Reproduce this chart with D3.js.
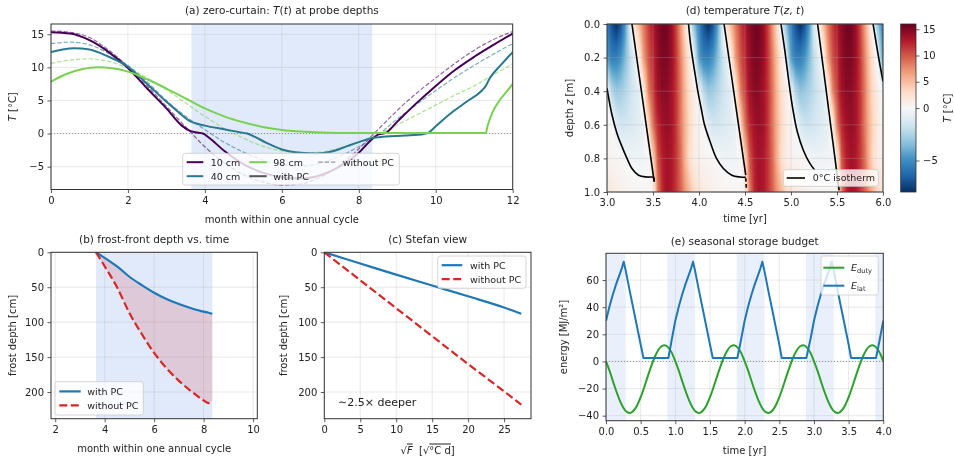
<!DOCTYPE html>
<html>
<head>
<meta charset="utf-8">
<script src="https://cdn.jsdelivr.net/npm/d3@7"></script>
<style>
  body { margin: 0; background: #fff; }
  #chart { position: relative; width: 954px; height: 458px; }
  #chart canvas, #chart svg { position: absolute; left: 0; top: 0; }
</style>
</head>
<body>
<div id="chart"></div>
<script>
// ---------- (a) probe temperatures [month, degC] ----------
const pc10 = [[0,15.3],[0.5,15.1],[1,14.1],[1.5,12.3],[2,9.9],[2.5,6.8],[3,3.8],[3.4,1.2],[3.6,0.45],[3.75,0.2],[3.95,0],[4.1,-0.6],[4.5,-2.6],[5,-4.6],[5.5,-5.9],[6,-6.6],[6.5,-6.8],[7,-6.3],[7.5,-5],[8,-2.9],[8.3,-1.1],[8.5,-0.15],[8.7,0.1],[9,1.8],[9.5,4.6],[10,7.2],[10.5,9.6],[11,11.6],[11.5,13.4],[12,15.1]];
const np10 = [[0,15.5],[0.5,15.3],[1,14.5],[1.5,12.6],[2,10.1],[2.5,7.2],[3,4.1],[3.5,1],[4,-2],[4.5,-4.4],[5,-6.2],[5.5,-7.3],[6,-7.8],[6.5,-7.6],[7,-6.6],[7.5,-4.8],[8,-2.3],[8.5,0.6],[9,3.5],[9.5,6.1],[10,8.4],[10.5,10.6],[11,12.6],[11.5,14.2],[12,15.4]];
const pc40 = [[0,12.3],[0.3,12.7],[0.6,12.9],[1,12.7],[1.5,11.6],[2,10.1],[2.5,7.5],[3,4.8],[3.3,3.3],[3.6,1.9],[4,1.2],[4.5,0.65],[4.9,0.2],[5.1,0],[5.3,-0.5],[5.6,-1.4],[6,-2.4],[6.5,-2.9],[6.9,-3],[7.3,-2.7],[7.7,-1.9],[8,-1.3],[8.3,-0.75],[8.7,-0.45],[9.2,-0.3],[9.7,-0.05],[9.8,0.1],[10,1.1],[10.4,3.1],[10.8,4.8],[11.2,6.5],[11.3,7.2],[11.4,8.3],[11.7,10.4],[12,12.3]];
const np40 = [[0,13.6],[0.5,13.8],[1,13.4],[1.5,12.1],[2,10.3],[2.5,7.8],[3,5],[3.5,2.6],[4,0.6],[4.5,-1.3],[5,-2.8],[5.5,-4],[6,-4.7],[6.5,-4.9],[7,-4.5],[7.5,-3.4],[8,-2],[8.5,-0.2],[9,2.2],[9.5,4.4],[10,6.5],[10.5,8.5],[11,10.3],[11.5,12],[12,13.6]];
const pc98 = [[0,7.85],[0.4,9],[0.8,9.7],[1.2,10],[1.6,9.85],[2,9.35],[2.5,8.2],[3,6.8],[3.5,5.3],[4,3.8],[4.5,2.6],[5,1.7],[5.5,1],[6,0.55],[6.5,0.3],[7,0.15],[7.5,0.1],[8,0.1],[9,0.1],[10,0.1],[11,0.1],[11.3,0.1],[11.35,1.2],[11.4,2.1],[11.5,3.5],[11.67,5.1],[11.85,6.4],[12,7.5]];
const np98 = [[0,10.6],[0.5,11.1],[1,11.3],[1.5,10.9],[2,9.9],[2.5,8.4],[3,6.6],[3.5,4.6],[4,2.6],[4.5,0.8],[5,-0.7],[5.5,-1.9],[6,-2.6],[6.5,-2.9],[7,-2.8],[7.5,-2.2],[8,-1.3],[8.5,-0.1],[9,1.3],[9.5,2.8],[10,4.3],[10.5,5.8],[11,7.2],[11.5,8.9],[12,10.5]];
const freezeSpan = [3.65, 8.35];

// ---------- (b) frost front ----------
const frostMonths = [3.65, 4.0, 4.5, 5.0, 5.5, 6.0, 6.5, 7.0, 7.5, 8.0, 8.2, 8.35];
const frostWithPC = [0, 8, 20, 35, 47, 58, 67, 74, 80, 85, 86.5, 88];
const frostWithoutPC = [0, 20, 50, 87, 117, 144, 166, 184, 199, 212, 216, 213];

// ---------- (c) Stefan view ----------
const stefanSqrtF = [0, 5, 10, 15, 20, 25, 27.4];
const stefanWithPC = [0, 16, 32, 47.5, 63, 79, 88];
const stefanWithoutPC = [0, 40, 80, 120, 160, 199, 218];

// ---------- (d) temperature field T(z,t), rows by depth, columns every 0.05 yr from 3.0 to 6.0 ----------
const heatDepths = [0, 0.2, 0.4, 0.6, 0.8, 1.0];
const heatZ00 = [
  -5.5,-7,-8,-7,-4.5,-1.2,2.5,5.5,8.5,11,13,14.5,15.5,15.5,14,11,7,2.8,-1,-3.5,
  -5.5,-7,-8,-7,-4.5,-1.2,2.5,5.5,8.5,11,13,14.5,15.5,15.5,14,11,7,2.8,-1,-3.5,
  -5.5,-7,-8,-7,-4.5,-1.2,0.5,5,8.5,11,13,14.5,15.5,15.5,14,11,7,2.8,-1,-3.5,
  -5.5];
const heatZ02 = [
  -4.5,-5.5,-5.5,-4.8,-3.5,-2,-0.9,1.5,7,10,12,14,15,15,14,11.5,8,4.5,1.5,-1,
  -4.5,-5.5,-5.5,-4.8,-3.5,-2,-0.9,1.5,7,10,12,14,15,15,14,11.5,8,4.5,1.5,-1,
  -4.5,-5.5,-5.5,-4.8,-3.5,-2,-0.9,0.3,6.5,10,12,14,15,15,14,11.5,8,4.5,1.5,-1,
  -4.5];
const heatZ04 = [
  -0.2,-2.2,-3,-2.8,-2.3,-1.8,-1.3,-0.9,1.5,8,11,13.5,14.5,14.5,13.5,11.5,8.5,5,2.5,1,
  -0.2,-2.2,-3,-2.8,-2.3,-1.8,-1.3,-0.9,1.5,8,11,13.5,14.5,14.5,13.5,11.5,8.5,5,2.5,1,
  -0.2,-2.4,-3.2,-3,-2.5,-2,-1.5,-1,0.2,7.5,11,13.5,14.5,14.5,13.5,11.5,8.5,5,2.5,1,
  -0.2];
const heatZ06 = [
  0.4,0.1,-1,-1.5,-1.5,-1.3,-1.1,-0.9,-0.6,3,9,12,13.5,14,13.5,11.5,8.5,5.5,3,1.2,
  0.4,0.1,-1,-1.5,-1.5,-1.3,-1.1,-0.9,-0.6,3,9,12,13.5,14,13.5,11.5,8.5,5.5,3,1.2,
  0.4,0,-1.2,-1.7,-1.7,-1.5,-1.2,-1,-0.7,0.5,8.5,12,13.5,14,13.5,11.5,8.5,5.5,3,1.2,
  0.4];
const heatZ08 = [
  0.6,0.45,0.3,0.15,-0.05,-0.3,-0.35,-0.35,-0.3,-0.2,3,10,12.5,13.5,13,11.5,9,5.5,2.5,1.2,
  0.6,0.45,0.3,0.15,-0.05,-0.3,-0.35,-0.35,-0.3,-0.2,3,10,12.5,13.5,13,11.5,9,5.5,2.5,1.2,
  0.6,0.45,0.3,0.1,-0.1,-0.35,-0.4,-0.4,-0.35,-0.25,0.2,10,12.5,13.5,13,11.5,9,5.5,2.5,1.2,
  0.6];
const heatZ10 = [
  2,1.5,1.1,0.8,0.6,0.45,0.35,0.25,0.2,0.15,0.1,8,12,13.5,13,11.5,9.5,7,5,3,
  2,1.5,1.1,0.8,0.6,0.45,0.35,0.25,0.2,0.15,0.1,8,12,13.5,13,11.5,9.5,7,5,3,
  2,1.5,1.1,0.8,0.6,0.45,0.35,0.25,0.2,0.15,0.1,8,12,13.5,13,11.5,9.5,7,5,3,
  2];
const heatRows = [heatZ00, heatZ02, heatZ04, heatZ06, heatZ08, heatZ10];
const heatTimes = d3.range(heatZ00.length).map(i => 3 + i * 0.05);

// 0 degC isotherm pieces [t yr, z m]
const isoLines = [
  [[3.0,0.382],[3.018,0.44],[3.054,0.54],[3.108,0.65],[3.163,0.73],[3.217,0.80],[3.271,0.86],[3.343,0.90],[3.434,0.911],[3.506,0.913],[3.513,0.935]],
  [[3.271,0],[3.513,0.94]],
  [[3.886,0],[3.904,0.1],[3.929,0.2],[3.958,0.3],[3.987,0.4],[4.023,0.5],[4.06,0.6],[4.12,0.7],[4.19,0.8],[4.265,0.86],[4.356,0.90],[4.446,0.911],[4.508,0.913]],
  [[4.272,0],[4.508,0.90]],
  [[4.509,0.918],[4.511,0.938]],
  [[4.512,0.952],[4.514,0.975]],
  [[4.891,0],[4.934,0.163],[4.981,0.362],[5.024,0.52],[5.068,0.64],[5.133,0.75],[5.205,0.83],[5.259,0.87]],
  [[5.289,0],[5.523,0.99]],
  [[5.892,0],[5.946,0.18],[6.0,0.342]]
];

// ---------- (e) storage budget ----------
const dutyTimes = d3.range(81).map(i => i * 0.05);
const dutyEnergy = [
  0,-6.8,-14.6,-22.2,-28.9,-34.1,-37.2,-38,-36.2,-32.3,-26.4,-19.2,-11.4,-3.8,2.9,8.1,11.2,12,10.2,6.3,
  0,-6.8,-14.6,-22.2,-28.9,-34.1,-37.2,-38,-36.2,-32.3,-26.4,-19.2,-11.4,-3.8,2.9,8.1,11.2,12,10.2,6.3,
  0,-6.8,-14.6,-22.2,-28.9,-34.1,-37.2,-38,-36.2,-32.3,-26.4,-19.2,-11.4,-3.8,2.9,8.1,11.2,12,10.2,6.3,
  0,-6.8,-14.6,-22.2,-28.9,-34.1,-37.2,-38,-36.2,-32.3,-26.4,-19.2,-11.4,-3.8,2.9,8.1,11.2,12,10.2,6.3,
  0];
const latent = [
  [0,30],[0.05,40.5],[0.1,49.5],[0.15,57.5],[0.2,64.5],[0.23,69],[0.255,73.5],[0.28,68],[0.35,50],[0.4,37.5],[0.45,25],[0.5,12.5],[0.54,2.5],[0.9,2.5],[0.95,16.5],
  [1,30],[1.05,40.5],[1.1,49.5],[1.15,57.5],[1.2,64.5],[1.23,69],[1.255,73.5],[1.28,68],[1.35,50],[1.4,37.5],[1.45,25],[1.5,12.5],[1.54,2.5],[1.895,2.5],[1.95,16.5],
  [2,30],[2.05,40.5],[2.1,49.5],[2.15,57.5],[2.2,64.5],[2.23,69],[2.255,73.5],[2.28,68],[2.35,50],[2.4,37.5],[2.45,25],[2.5,12.5],[2.535,2.5],[2.89,2.5],[2.95,16.5],
  [3,30],[3.05,40.5],[3.1,49.5],[3.15,57.5],[3.2,64.5],[3.23,69],[3.255,73.5],[3.28,68],[3.35,50],[3.4,37.5],[3.45,25],[3.5,12.5],[3.535,2.5],[3.895,2.5],[3.95,16.5],
  [4,30]];
const budgetSpans = [[-0.115,0.285],[0.885,1.285],[1.885,2.285],[2.885,3.285],[3.885,4.285]];

// ---------- layout ----------
const W = 954, H = 458;
const FONT = "DejaVu Sans, sans-serif";
const A = {l: 51, r: 512.7, t: 24, b: 189.5};
const D = {l: 607, r: 883, t: 24, b: 192};
const CB = {l: 900.7, r: 916, t: 24, b: 192};
const B = {l: 51, r: 257.3, t: 252.3, b: 418.7};
const C = {l: 324.3, r: 531, t: 252.3, b: 418.7};
const E = {l: 606, r: 883.3, t: 253.3, b: 420.7};

const c10 = "#440154", c40 = "#2a788e", c98 = "#7ad151";
const blue = "#1f77b4", red = "#d62728", green = "#2ca02c";

// colour map: RdBu_r with two-slope norm (-8, 0, 16)
const rdbuR = d3.scaleLinear().domain(d3.range(11).map(i => i / 10)).range(d3.schemeRdBu[11].slice().reverse());
const tempNorm = d3.scaleLinear().domain([-8, 0, 16]).range([0, 0.5, 1]).clamp(true);
const tempColor = v => rdbuR(tempNorm(v));

const chart = d3.select("#chart");
const canvas = chart.append("canvas");
const svg = chart.append("svg").attr("width", W).attr("height", H);

function label(g, x, y, parts, o = {}) {
  const t = g.append("text").attr("x", x).attr("y", y)
    .attr("font-family", FONT).attr("font-size", o.size || 10)
    .attr("fill", "#222").attr("text-anchor", o.anchor || "middle")
    .style("white-space", "pre");
  if (o.rotate) t.attr("transform", `rotate(-90,${x},${y})`);
  if (o.dy) t.attr("dy", o.dy);
  (typeof parts === "string" ? [{t: parts}] : parts).forEach(p => {
    const s = t.append("tspan").text(p.t);
    if (p.i) s.attr("font-style", "italic");
    if (p.sub) s.attr("font-size", "0.7em").attr("dy", "0.3em");
    if (p.over) s.attr("text-decoration", "overline");
  });
  return t;
}

function styleAxis(g) {
  g.attr("font-family", FONT).attr("font-size", 10);
  g.select(".domain").remove();
  g.selectAll(".tick line").attr("stroke", "#333").attr("stroke-width", 0.8);
  g.selectAll(".tick text").attr("fill", "#222");
}

function panel(box, xd, yd, xt, yt, xf, yf, id) {
  const x = d3.scaleLinear().domain(xd).range([box.l, box.r]);
  const y = d3.scaleLinear().domain(yd).range([box.b, box.t]);
  svg.append("clipPath").attr("id", id).append("rect")
    .attr("x", box.l).attr("y", box.t).attr("width", box.r - box.l).attr("height", box.b - box.t);
  const under = svg.append("g").attr("clip-path", `url(#${id})`);
  const grid = svg.append("g").attr("stroke", "#b0b0b0").attr("stroke-opacity", 0.35).attr("stroke-width", 0.8);
  grid.selectAll("line.gx").data(xt).join("line").attr("class", "gx")
    .attr("x1", d => x(d)).attr("x2", d => x(d)).attr("y1", box.t).attr("y2", box.b);
  grid.selectAll("line.gy").data(yt).join("line").attr("class", "gy")
    .attr("y1", d => y(d)).attr("y2", d => y(d)).attr("x1", box.l).attr("x2", box.r);
  const plot = svg.append("g").attr("clip-path", `url(#${id})`);
  const axes = svg.append("g");
  axes.append("g").attr("transform", `translate(0,${box.b})`)
    .call(d3.axisBottom(x).tickValues(xt).tickFormat(xf).tickSize(3.5).tickPadding(3.5)).call(styleAxis);
  axes.append("g").attr("transform", `translate(${box.l},0)`)
    .call(d3.axisLeft(y).tickValues(yt).tickFormat(yf).tickSize(3.5).tickPadding(3.5)).call(styleAxis);
  axes.append("rect").attr("x", box.l).attr("y", box.t).attr("width", box.r - box.l).attr("height", box.b - box.t)
    .attr("fill", "none").attr("stroke", "#333").attr("stroke-width", 1);
  return {x, y, under, plot, axes};
}

function legendBox(g, l, r, t, b) {
  g.append("rect").attr("x", l).attr("y", t).attr("width", r - l).attr("height", b - t).attr("rx", 2.5)
    .attr("fill", "#fff").attr("fill-opacity", 0.8).attr("stroke", "#cccccc").attr("stroke-width", 0.8);
}
function legendItem(g, x1, x2, y, st, parts, tx) {
  g.append("line").attr("x1", x1).attr("x2", x2).attr("y1", y).attr("y2", y)
    .attr("stroke", st.color).attr("stroke-width", st.width)
    .attr("stroke-dasharray", st.dash || null).attr("stroke-opacity", st.opacity || 1);
  label(g, tx, y, parts, {anchor: "start", size: 9.5, dy: "0.35em"});
}

const fmtInt = d3.format("d"), fmt1 = d3.format(".1f");

// ================= (a) =================
{
  const p = panel(A, [0, 12], [-8.45, 16.55], [0, 2, 4, 6, 8, 10, 12], [-5, 0, 5, 10, 15], fmtInt, fmtInt, "clipA");
  p.under.append("rect").attr("x", p.x(freezeSpan[0])).attr("width", p.x(freezeSpan[1]) - p.x(freezeSpan[0]))
    .attr("y", A.t).attr("height", A.b - A.t).attr("fill", "#6495ed").attr("fill-opacity", 0.2);
  p.plot.append("line").attr("x1", A.l).attr("x2", A.r).attr("y1", p.y(0)).attr("y2", p.y(0))
    .attr("stroke", "#888").attr("stroke-width", 0.9).attr("stroke-dasharray", "1,2");
  const line = d3.line().x(d => p.x(d[0])).y(d => p.y(d[1])).curve(d3.curveMonotoneX);
  [[np10, c10], [np40, c40], [np98, c98]].forEach(([d, c]) =>
    p.plot.append("path").attr("d", line(d)).attr("fill", "none").attr("stroke", c)
      .attr("stroke-width", 1.2).attr("stroke-dasharray", "4.4,1.9").attr("stroke-opacity", 0.6));
  [[pc10, c10], [pc40, c40], [pc98, c98]].forEach(([d, c]) =>
    p.plot.append("path").attr("d", line(d)).attr("fill", "none").attr("stroke", c).attr("stroke-width", 2));
  label(svg, (A.l + A.r) / 2, 14, [{t: "(a) zero-curtain: "}, {t: "T", i: true}, {t: "("}, {t: "t", i: true}, {t: ") at probe depths"}], {size: 10.5});
  label(svg, (A.l + A.r) / 2, 222.5, "month within one annual cycle");
  label(svg, 16, (A.t + A.b) / 2, [{t: "T", i: true}, {t: " [°C]"}], {rotate: true});
  const lg = svg.append("g");
  legendBox(lg, 182.7, 399.3, 153.3, 185);
  legendItem(lg, 186.7, 203.3, 162.2, {color: c10, width: 2}, "10 cm", 210.7);
  legendItem(lg, 186.7, 203.3, 176.2, {color: c40, width: 2}, "40 cm", 210.7);
  legendItem(lg, 249.3, 266.7, 162.2, {color: c98, width: 2}, "98 cm", 273.3);
  legendItem(lg, 249.3, 266.7, 176.2, {color: "#555", width: 2}, "with PC", 273.3);
  legendItem(lg, 318.3, 335.7, 162.2, {color: "#555", width: 1.2, dash: "4.4,1.9", opacity: 0.6}, "without PC", 342.7);
}

// ================= (b) =================
{
  const p = panel(B, [1.83, 10.17], [238.2, 0], [2, 4, 6, 8, 10], [0, 50, 100, 150, 200], fmtInt, fmtInt, "clipB");
  p.under.append("rect").attr("x", p.x(freezeSpan[0])).attr("width", p.x(freezeSpan[1]) - p.x(freezeSpan[0]))
    .attr("y", B.t).attr("height", B.b - B.t).attr("fill", "#6495ed").attr("fill-opacity", 0.2);
  const pts = frostMonths.map((m, i) => ({m, a: frostWithPC[i], b: frostWithoutPC[i]}));
  p.plot.append("path").attr("d", d3.area().x(d => p.x(d.m)).y0(d => p.y(d.a)).y1(d => p.y(d.b)).curve(d3.curveMonotoneX)(pts))
    .attr("fill", red).attr("fill-opacity", 0.17);
  p.plot.append("path").attr("d", d3.line().x(d => p.x(d.m)).y(d => p.y(d.a)).curve(d3.curveMonotoneX)(pts))
    .attr("fill", "none").attr("stroke", blue).attr("stroke-width", 2.2);
  p.plot.append("path").attr("d", d3.line().x(d => p.x(d.m)).y(d => p.y(d.b)).curve(d3.curveMonotoneX)(pts))
    .attr("fill", "none").attr("stroke", red).attr("stroke-width", 2.2).attr("stroke-dasharray", "8,3.5");
  label(svg, (B.l + B.r) / 2, 243, "(b) frost-front depth vs. time", {size: 10.5});
  label(svg, (B.l + B.r) / 2, 452, "month within one annual cycle");
  label(svg, 16, (B.t + B.b) / 2, "frost depth [cm]", {rotate: true});
  const lg = svg.append("g");
  legendBox(lg, 55, 143.3, 381.7, 415);
  legendItem(lg, 59.3, 80.7, 391.4, {color: blue, width: 2.2}, "with PC", 87.3);
  legendItem(lg, 59.3, 80.7, 405.3, {color: red, width: 2.2, dash: "8,3.5"}, "without PC", 87.3);
}

// ================= (c) =================
{
  const p = panel(C, [0, 28.75], [238.2, 0], [0, 5, 10, 15, 20, 25], [0, 50, 100, 150, 200], fmtInt, fmtInt, "clipC");
  const pts = stefanSqrtF.map((s, i) => ({s, a: stefanWithPC[i], b: stefanWithoutPC[i]}));
  p.plot.append("path").attr("d", d3.line().x(d => p.x(d.s)).y(d => p.y(d.a)).curve(d3.curveMonotoneX)(pts))
    .attr("fill", "none").attr("stroke", blue).attr("stroke-width", 2.2);
  p.plot.append("path").attr("d", d3.line().x(d => p.x(d.s)).y(d => p.y(d.b)).curve(d3.curveMonotoneX)(pts))
    .attr("fill", "none").attr("stroke", red).attr("stroke-width", 2.2).attr("stroke-dasharray", "8,3.5");
  label(svg, 338, 406, "∼2.5× deeper", {anchor: "start", size: 11});
  label(svg, (C.l + C.r) / 2, 243, "(c) Stefan view", {size: 10.5});
  label(svg, (C.l + C.r) / 2, 453.5, [{t: "√"}, {t: "F", i: true, over: true}, {t: "  [√"}, {t: "°C d", over: true}, {t: "]"}]);
  label(svg, 287, (C.t + C.b) / 2, "frost depth [cm]", {rotate: true});
  const lg = svg.append("g");
  legendBox(lg, 437.7, 526, 256, 288.3);
  legendItem(lg, 441.7, 462.3, 265.2, {color: blue, width: 2.2}, "with PC", 470);
  legendItem(lg, 441.7, 462.3, 279.2, {color: red, width: 2.2, dash: "8,3.5"}, "without PC", 470);
}

// ================= (d) =================
{
  const w = D.r - D.l, h = D.b - D.t;
  const x = d3.scaleLinear().domain([3, 6]).range([D.l, D.r]);
  const y = d3.scaleLinear().domain([1, 0]).range([D.b, D.t]);
  const dt = heatTimes[1] - heatTimes[0];
  const dz = heatDepths[1] - heatDepths[0];
  const sample = (t, z) => {
    const fi = Math.max(0, Math.min(heatTimes.length - 1.0001, (t - heatTimes[0]) / dt));
    const i0 = Math.floor(fi), ft = fi - i0;
    const fj = Math.max(0, Math.min(heatDepths.length - 1.0001, z / dz));
    const j0 = Math.floor(fj), fz = fj - j0;
    const r0 = heatRows[j0], r1 = heatRows[j0 + 1];
    const a = r0[i0] * (1 - ft) + r0[i0 + 1] * ft;
    const b = r1[i0] * (1 - ft) + r1[i0 + 1] * ft;
    return a * (1 - fz) + b * fz;
  };
  canvas.attr("width", w).attr("height", h).style("left", D.l + "px").style("top", D.t + "px");
  const ctx = canvas.node().getContext("2d");
  const img = ctx.createImageData(w, h);
  for (let py = 0; py < h; py++) {
    const z = y.invert(D.t + py + 0.5);
    for (let px = 0; px < w; px++) {
      const c = d3.rgb(tempColor(sample(x.invert(D.l + px + 0.5), z)));
      const k = (py * w + px) * 4;
      img.data[k] = c.r; img.data[k + 1] = c.g; img.data[k + 2] = c.b; img.data[k + 3] = 255;
    }
  }
  ctx.putImageData(img, 0, 0);

  const p = panel(D, [3, 6], [1, 0], [3, 3.5, 4, 4.5, 5, 5.5, 6], [0, 0.2, 0.4, 0.6, 0.8, 1.0], fmt1, fmt1, "clipD");
  const line = d3.line().x(d => p.x(d[0])).y(d => p.y(d[1])).curve(d3.curveCatmullRom);
  isoLines.forEach(seg => p.plot.append("path").attr("d", line(seg)).attr("fill", "none")
    .attr("stroke", "#000").attr("stroke-width", 1.6));
  label(svg, (D.l + D.r) / 2, 14, [{t: "(d) temperature "}, {t: "T", i: true}, {t: "("}, {t: "z", i: true}, {t: ", "}, {t: "t", i: true}, {t: ")"}], {size: 10.5});
  label(svg, (D.l + D.r) / 2, 221.5, "time [yr]");
  label(svg, 573, (D.t + D.b) / 2, [{t: "depth "}, {t: "z", i: true}, {t: " [m]"}], {rotate: true});
  const lg = svg.append("g");
  legendBox(lg, 783.3, 878.3, 169.7, 186.3);
  legendItem(lg, 786.7, 805, 178, {color: "#000", width: 1.6}, "0°C isotherm", 812.7);

  // colour bar
  const cbY = d3.scaleLinear().domain([-8, 0, 16]).range([CB.b, (CB.t + CB.b) / 2, CB.t]);
  const grad = svg.append("defs").append("linearGradient").attr("id", "cbGrad")
    .attr("x1", 0).attr("y1", 0).attr("x2", 0).attr("y2", 1);
  d3.range(16, -8.01, -0.25).forEach(v => grad.append("stop")
    .attr("offset", (cbY(v) - CB.t) / (CB.b - CB.t)).attr("stop-color", tempColor(v)));
  svg.append("rect").attr("x", CB.l).attr("y", CB.t).attr("width", CB.r - CB.l).attr("height", CB.b - CB.t)
    .attr("fill", "url(#cbGrad)").attr("stroke", "#333").attr("stroke-width", 0.8);
  svg.append("g").attr("transform", `translate(${CB.r},0)`)
    .call(d3.axisRight(cbY).tickValues([-5, 0, 5, 10, 15]).tickFormat(fmtInt).tickSize(3.5).tickPadding(3.5))
    .call(styleAxis);
  label(svg, 951, (CB.t + CB.b) / 2, [{t: "T", i: true}, {t: " [°C]"}], {rotate: true});
}

// ================= (e) =================
{
  const p = panel(E, [0, 4], [-43.7, 79.7], [0, 0.5, 1, 1.5, 2, 2.5, 3, 3.5, 4], [-40, -20, 0, 20, 40, 60], fmt1, fmtInt, "clipE");
  p.under.selectAll("rect").data(budgetSpans).join("rect")
    .attr("x", d => p.x(d[0])).attr("width", d => p.x(d[1]) - p.x(d[0]))
    .attr("y", E.t).attr("height", E.b - E.t).attr("fill", "#6495ed").attr("fill-opacity", 0.14);
  p.plot.append("line").attr("x1", E.l).attr("x2", E.r).attr("y1", p.y(0)).attr("y2", p.y(0))
    .attr("stroke", "#888").attr("stroke-width", 0.9).attr("stroke-dasharray", "1,2");
  const duty = dutyTimes.map((t, i) => [t, dutyEnergy[i]]);
  p.plot.append("path").attr("d", d3.line().x(d => p.x(d[0])).y(d => p.y(d[1])).curve(d3.curveMonotoneX)(duty))
    .attr("fill", "none").attr("stroke", green).attr("stroke-width", 2);
  p.plot.append("path").attr("d", d3.line().x(d => p.x(d[0])).y(d => p.y(d[1]))(latent))
    .attr("fill", "none").attr("stroke", blue).attr("stroke-width", 2).attr("stroke-linejoin", "round");
  label(svg, (E.l + E.r) / 2, 245, "(e) seasonal storage budget", {size: 10.5});
  label(svg, (E.l + E.r) / 2, 453.5, "time [yr]");
  label(svg, 567, (E.t + E.b) / 2, "energy [MJ/m²]", {rotate: true});
  const lg = svg.append("g");
  legendBox(lg, 821, 878.3, 256, 295);
  legendItem(lg, 823.3, 844.3, 267.7, {color: green, width: 2}, [{t: "E", i: true}, {t: "duty", sub: true}], 851);
  legendItem(lg, 823.3, 844.3, 285.7, {color: blue, width: 2}, [{t: "E", i: true}, {t: "lat", sub: true}], 851);
}
</script>
</body>
</html>
